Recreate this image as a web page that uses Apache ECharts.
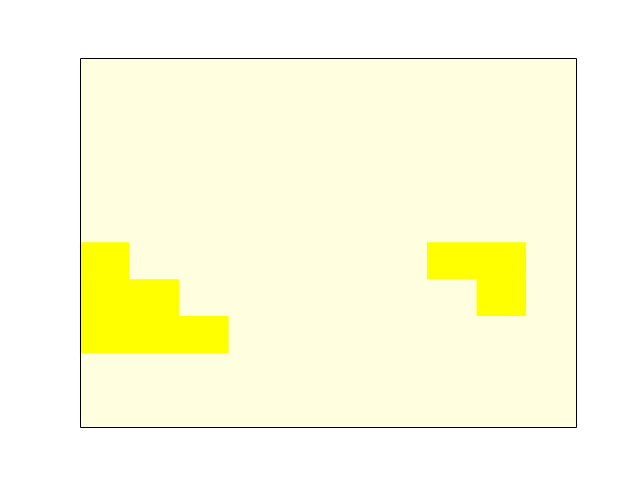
<!DOCTYPE html>
<html>
<head>
<meta charset="utf-8">
<script src="https://cdn.jsdelivr.net/npm/echarts@6/dist/echarts.min.js"></script>
<style>html,body{margin:0;padding:0;background:#fff;}#c{width:640px;height:480px;}</style>
</head>
<body>
<div id="c"></div>
<script>
// 10x10 grid, rows listed top to bottom, 1 = filled (yellow), 0 = empty
const cols = ['0','1','2','3','4','5','6','7','8','9'];
const rows = ['0','1','2','3','4','5','6','7','8','9'];
const row0 = [0,0,0,0,0,0,0,0,0,0];
const row1 = [0,0,0,0,0,0,0,0,0,0];
const row2 = [0,0,0,0,0,0,0,0,0,0];
const row3 = [0,0,0,0,0,0,0,0,0,0];
const row4 = [0,0,0,0,0,0,0,0,0,0];
const row5 = [1,0,0,0,0,0,0,1,1,0];
const row6 = [1,1,0,0,0,0,0,0,1,0];
const row7 = [1,1,1,0,0,0,0,0,0,0];
const row8 = [0,0,0,0,0,0,0,0,0,0];
const row9 = [0,0,0,0,0,0,0,0,0,0];
const grid = [row0,row1,row2,row3,row4,row5,row6,row7,row8,row9];
const data = [];
grid.forEach((r, yi) => r.forEach((v, xi) => data.push([xi, yi, v])));
const chart = echarts.init(document.getElementById('c'), null, {renderer:'canvas'});
chart.setOption({
  animation: false,
  backgroundColor: '#ffffff',
  grid: {left: 80, top: 58, width: 496, height: 369, show: true, borderWidth: 0, backgroundColor: '#ffffe0'},
  xAxis: {type: 'category', data: cols, show: false},
  yAxis: {type: 'category', data: rows, inverse: true, show: false},
  visualMap: {show: false, type: 'piecewise', pieces: [{value: 0, color: '#ffffe0'}, {value: 1, color: '#ffff00'}]},
  series: [{type: 'heatmap', data: data, itemStyle: {borderWidth: 0}, emphasis: {disabled: true}}],
  graphic: [{type: 'rect', z: 100, silent: true, shape: {x: 80.5, y: 58.5, width: 496, height: 369}, style: {fill: null, stroke: '#000', lineWidth: 1}}]
});
</script>
</body>
</html>
